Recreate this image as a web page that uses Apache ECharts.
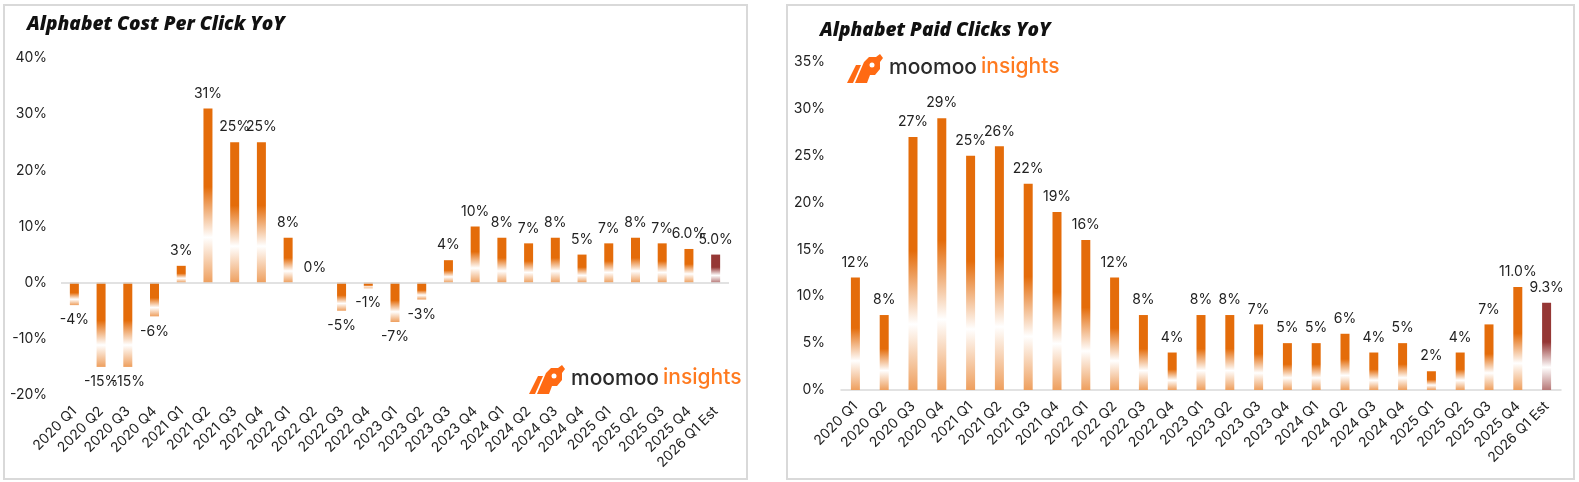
<!DOCTYPE html>
<html>
<head>
<meta charset="utf-8">
<script src="https://cdn.jsdelivr.net/npm/echarts@6/dist/echarts.min.js"></script>
<style>
  html, body { margin: 0; padding: 0; background: #fff; }
  #chart { width: 1579px; height: 482px; }
</style>
</head>
<body>
<div id="chart"></div>
<script>
// quarters shown on both charts
var quarters = [
  '2020 Q1', '2020 Q2', '2020 Q3', '2020 Q4',
  '2021 Q1', '2021 Q2', '2021 Q3', '2021 Q4',
  '2022 Q1', '2022 Q2', '2022 Q3', '2022 Q4',
  '2023 Q1', '2023 Q2', '2023 Q3', '2023 Q4',
  '2024 Q1', '2024 Q2', '2024 Q3', '2024 Q4',
  '2025 Q1', '2025 Q2', '2025 Q3', '2025 Q4',
  '2026 Q1 Est'
]
// cost per click yoy (%)
var cpcYoY = [-4, -15, -15, -6, 3, 31, 25, 25, 8, 0, -5, -1, -7, -3, 4, 10, 8, 7, 8, 5, 7, 8, 7, 6.0, 5.0]
// paid clicks yoy (%)
var clicksYoY = [12, 8, 27, 29, 25, 26, 22, 19, 16, 12, 8, 4, 8, 8, 7, 5, 5, 6, 4, 5, 2, 4, 7, 11.0, 9.3]
// labels from this index on get one decimal
var cpcDecimalFrom = 23
var clicksDecimalFrom = 23
var cpcTicks = { min: -20, max: 40, interval: 10 }
var clicksTicks = { min: 0, max: 35, interval: 5 }

var ORANGE = '#E46C0A'
var ORANGE_LOW = '#EE9F5E'
var EST = '#953735'
var EST_LOW = '#B77877'
var FONT = 'Inter'

function grad(top, low) {
  return new echarts.graphic.LinearGradient(0, 0, 0, 1, [
    { offset: 0, color: top },
    { offset: 0.45, color: top },
    { offset: 0.74, color: '#ffffff' },
    { offset: 1, color: low }
  ])
}

function barData(values) {
  var last = values.length - 1
  return values.map(function (v, i) {
    return {
      value: v,
      itemStyle: { color: i === last ? grad(EST, EST_LOW) : grad(ORANGE, ORANGE_LOW) },
      label: { position: v < 0 ? 'bottom' : 'top' }
    }
  })
}

function labelFmt(from) {
  return function (p) {
    return (p.dataIndex >= from ? p.value.toFixed(1) : p.value.toFixed(0)) + '%'
  }
}

// rough moomoo insights logo
function logo(x, y) {
  return {
    type: 'group',
    x: x,
    y: y,
    children: [
      { type: 'polygon', shape: { points: [[0, 30], [9, 12], [14, 12], [6, 30]] }, style: { fill: '#FF6A13' } },
      { type: 'polygon', shape: { points: [[8, 30], [17, 9], [22, 4], [29, 4], [33, 1], [36, 5], [33, 9], [33, 16], [28, 22], [23, 22], [20, 30]] }, style: { fill: '#FF6A13' } },
      { type: 'circle', shape: { cx: 25, cy: 12, r: 2.5 }, style: { fill: '#ffffff' } },
      { type: 'text', x: 42, y: 4, style: { text: 'moomoo', font: '500 21px ' + FONT, fill: '#2b2b2b' } },
      { type: 'text', x: 134, y: 3, style: { text: 'insights', font: '500 21px ' + FONT, fill: '#FF7A1F' } }
    ]
  }
}

var axisLabelStyle = { color: '#222', fontFamily: FONT, fontSize: 14 }
var titleStyle = { fontFamily: 'Open Sans', fontStyle: 'italic', fontWeight: 800, fontSize: 19, color: '#111' }

var chart = echarts.init(document.getElementById('chart'))
chart.setOption({
  animation: false,
  textStyle: { fontFamily: FONT },
  title: [
    { text: 'Alphabet Cost Per Click YoY', left: 22, top: 10, textStyle: titleStyle },
    { text: 'Alphabet Paid Clicks YoY', left: 815, top: 16, textStyle: titleStyle }
  ],
  graphic: [
    { type: 'rect', shape: { x: 4, y: 5, width: 743, height: 474 }, style: { fill: 'none', stroke: '#d9d9d9', lineWidth: 2 }, z: -1 },
    { type: 'rect', shape: { x: 787, y: 5, width: 787, height: 474 }, style: { fill: 'none', stroke: '#d9d9d9', lineWidth: 2 }, z: -1 },
    logo(529, 364),
    logo(847, 53)
  ],
  grid: [
    { left: 61, width: 668, top: 58, height: 337 },
    { left: 841, width: 720, top: 62, height: 328 }
  ],
  xAxis: [
    {
      type: 'category', gridIndex: 0, data: quarters,
      axisLine: { show: false, onZero: false }, axisTick: { show: false },
      axisLabel: Object.assign({ rotate: 45, margin: 14, interval: 0 }, axisLabelStyle)
    },
    {
      type: 'category', gridIndex: 1, data: quarters,
      axisLine: { lineStyle: { color: '#d9d9d9', width: 1.5 } }, axisTick: { show: false },
      axisLabel: Object.assign({ rotate: 45, margin: 14, interval: 0 }, axisLabelStyle)
    }
  ],
  yAxis: [
    {
      type: 'value', gridIndex: 0, min: cpcTicks.min, max: cpcTicks.max, interval: cpcTicks.interval,
      splitLine: { show: false }, axisLine: { show: false }, axisTick: { show: false },
      axisLabel: Object.assign({ formatter: '{value}%', margin: 14 }, axisLabelStyle)
    },
    {
      type: 'value', gridIndex: 1, min: clicksTicks.min, max: clicksTicks.max, interval: clicksTicks.interval,
      splitLine: { show: false }, axisLine: { show: false }, axisTick: { show: false },
      axisLabel: Object.assign({ formatter: '{value}%', margin: 16 }, axisLabelStyle)
    }
  ],
  series: [
    {
      type: 'bar', xAxisIndex: 0, yAxisIndex: 0, barWidth: 9,
      data: barData(cpcYoY),
      label: { show: true, distance: 8, formatter: labelFmt(cpcDecimalFrom), color: '#222', fontFamily: FONT, fontSize: 14 },
      markLine: {
        silent: true, symbol: 'none', label: { show: false },
        lineStyle: { color: '#d9d9d9', width: 1.5, type: 'solid' },
        data: [{ yAxis: 0 }]
      }
    },
    {
      type: 'bar', xAxisIndex: 1, yAxisIndex: 1, barWidth: 9,
      data: barData(clicksYoY),
      label: { show: true, distance: 8, formatter: labelFmt(clicksDecimalFrom), color: '#222', fontFamily: FONT, fontSize: 14 }
    }
  ]
})
</script>
</body>
</html>
